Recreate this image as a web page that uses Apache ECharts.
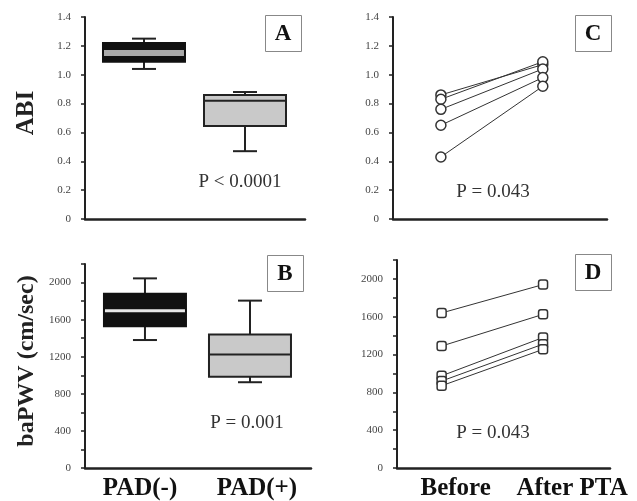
<!DOCTYPE html>
<html><head><meta charset="utf-8">
<script src="https://cdn.jsdelivr.net/npm/echarts@6/dist/echarts.min.js"></script>
<style>html,body{margin:0;padding:0;background:#fff}#c{width:637px;height:501px}</style>
</head><body><div id="c"></div>
<script>
// ---- data ----
const groupCats = ['PAD(-)', 'PAD(+)'];
// [min, Q1, median, Q3, max]
const abiPadNeg = [1.04, 1.09, 1.15, 1.22, 1.25];
const abiPadPos = [0.47, 0.645, 0.82, 0.86, 0.88];
const pwvPadNeg = [1380, 1530, 1695, 1880, 2045];
const pwvPadPos = [925, 985, 1225, 1440, 1805];
const periodCats = ['Before', 'After PTA'];
const abiBefore = [0.86, 0.83, 0.76, 0.65, 0.43];
const abiAfter  = [1.07, 1.09, 1.04, 0.98, 0.92];
const pwvBefore = [1640, 1290, 975, 920, 870];
const pwvAfter  = [1940, 1625, 1380, 1310, 1255];
const abiTicks = [0, 0.2, 0.4, 0.6, 0.8, 1.0, 1.2, 1.4];
const pwvTicks = [0, 400, 800, 1200, 1600, 2000];
const pTexts = ['P < 0.0001', 'P = 0.001', 'P = 0.043', 'P = 0.043'];
const panelLetters = ['A', 'B', 'C', 'D'];

// ---- styles ----
const SERIF = '"Liberation Serif","DejaVu Serif",serif';
const AX = '#222';
const boxStyles = [
  { fill: '#111', stroke: '#111', median: '#aaaaaa', medW: 6 },
  { fill: '#c9c9c9', stroke: '#222', median: '#222', medW: 2 }
];
const boxStylesB = [
  { fill: '#111', stroke: '#111', median: '#e8e8e8', medW: 3 },
  { fill: '#c9c9c9', stroke: '#222', median: '#222', medW: 2 }
];

function boxRender(styles) {
  return function (params, api) {
    const x = api.value(0);
    const pMin = api.coord([x, api.value(1)]);
    const pQ1 = api.coord([x, api.value(2)]);
    const pMed = api.coord([x, api.value(3)]);
    const pQ3 = api.coord([x, api.value(4)]);
    const pMax = api.coord([x, api.value(5)]);
    const cx = pMin[0];
    const half = 41, cap = 12;
    const s = styles[params.dataIndex];
    const ln = (x1, y1, x2, y2, c, w) => ({ type: 'line', shape: { x1, y1, x2, y2 }, style: { stroke: c, lineWidth: w } });
    return {
      type: 'group',
      children: [
        ln(cx, pMax[1], cx, pQ3[1], AX, 2),
        ln(cx, pQ1[1], cx, pMin[1], AX, 2),
        ln(cx - cap, pMax[1], cx + cap, pMax[1], AX, 2),
        ln(cx - cap, pMin[1], cx + cap, pMin[1], AX, 2),
        { type: 'rect', shape: { x: cx - half, y: pQ3[1], width: 2 * half, height: pQ1[1] - pQ3[1] },
          style: { fill: s.fill, stroke: s.stroke, lineWidth: 2 } },
        ln(cx - half + 1, pMed[1], cx + half - 1, pMed[1], s.median, s.medW)
      ]
    };
  };
}

const tickLabel = { fontFamily: SERIF, fontSize: 11, color: '#444', margin: 14 };
function yAbi(gi, name) {
  return {
    gridIndex: gi, type: 'value', min: 0, max: 1.4, interval: 0.2,
    name: name, nameLocation: 'middle', nameRotate: 90, nameGap: 46,
    nameTextStyle: { fontFamily: SERIF, fontSize: 25, fontWeight: 'bold', color: '#222', padding: [0, 0, 0, 10] },
    axisLine: { show: true, onZero: false, lineStyle: { color: AX, width: 2 } },
    axisTick: { show: true, length: 4, lineStyle: { color: AX, width: 1.5 } },
    splitLine: { show: false },
    axisLabel: Object.assign({}, tickLabel, {
      formatter: v => { const t = abiTicks.find(k => Math.abs(k - v) < 1e-6); return t === undefined ? '' : (t === 0 ? '0' : t.toFixed(1)); }
    })
  };
}
function yPwv(gi, name) {
  return {
    gridIndex: gi, type: 'value', min: 0, max: 2200, interval: 200,
    name: name, nameLocation: 'middle', nameRotate: 90, nameGap: 46,
    nameTextStyle: { fontFamily: SERIF, fontSize: 24, fontWeight: 'bold', color: '#222', padding: [0, 0, 0, 10] },
    axisLine: { show: true, onZero: false, lineStyle: { color: AX, width: 2 } },
    axisTick: { show: true, length: 4, lineStyle: { color: AX, width: 1.5 } },
    splitLine: { show: false },
    axisLabel: Object.assign({}, tickLabel, {
      formatter: v => pwvTicks.indexOf(v) >= 0 ? String(v) : ''
    })
  };
}
function xAxisDef(gi, min, max, cats, shifts) {
  const rich = {};
  shifts.forEach((s, i) => {
    rich['s' + i] = { fontFamily: SERIF, fontSize: 25, fontWeight: 'bold', color: '#111',
      padding: s >= 0 ? [0, 0, 0, 2 * s] : [0, -2 * s, 0, 0] };
  });
  return {
    gridIndex: gi, type: 'value', min: min, max: max,
    axisLine: { show: true, onZero: false, lineStyle: { color: AX, width: 2.5 } },
    axisTick: { show: false }, splitLine: { show: false },
    axisLabel: cats ? {
      show: true, customValues: [0, 1], margin: 8,
      formatter: v => '{s' + v + '|' + cats[v] + '}', rich: rich
    } : { show: false }
  };
}

const grids = [
  { left: 85, top: 17, width: 220, height: 202 },
  { left: 85, top: 264, width: 226, height: 205 },
  { left: 393, top: 17, width: 214, height: 202 },
  { left: 397, top: 260, width: 213, height: 209 }
];

function pairSeries(gi, before, after, symbol, size) {
  return before.map((b, i) => ({
    type: 'line', xAxisIndex: gi, yAxisIndex: gi,
    data: [[0, b], [1, after[i]]],
    symbol: symbol, symbolSize: size, showSymbol: true,
    lineStyle: { color: '#333', width: 1 },
    itemStyle: { color: '#fff', borderColor: '#333', borderWidth: 1.5 },
    animation: false, z: 3
  }));
}

const letterPos = [[265, 15], [267, 255], [575, 15], [575, 254]];
const pPos = [[240, 182], [247, 423], [493, 192], [493, 433]];
const graphics = [];
letterPos.forEach((p, i) => {
  graphics.push({ type: 'rect', left: p[0], top: p[1], shape: { width: 36, height: 36 },
    style: { fill: '#fff', stroke: '#888', lineWidth: 1 }, z: 10 });
  graphics.push({ type: 'text', x: p[0] + 18, y: p[1] + 19, z: 11,
    style: { text: panelLetters[i], fontFamily: SERIF, fontSize: 23, fontWeight: 'bold', fill: '#111',
      textAlign: 'center', textVerticalAlign: 'middle' } });
});
pPos.forEach((p, i) => {
  graphics.push({ type: 'text', x: p[0], y: p[1], z: 11,
    style: { text: pTexts[i], fontFamily: SERIF, fontSize: 19, fill: '#333',
      textAlign: 'center', textVerticalAlign: 'middle' } });
});

const option = {
  backgroundColor: '#fff',
  animation: false,
  grid: grids,
  xAxis: [
    xAxisDef(0, -0.584, 1.594, null, []),
    xAxisDef(1, -0.571, 1.581, groupCats, [-5, 7]),
    xAxisDef(2, -0.47, 1.63, null, []),
    xAxisDef(3, -0.44, 1.66, periodCats, [14, 29])
  ],
  yAxis: [yAbi(0, 'ABI'), yPwv(1, 'baPWV (cm/sec)'), yAbi(2, ''), yPwv(3, '')],
  series: [
    { type: 'custom', xAxisIndex: 0, yAxisIndex: 0, renderItem: boxRender(boxStyles),
      encode: { x: 0, y: [1, 2, 3, 4, 5] },
      data: [[0].concat(abiPadNeg), [1].concat(abiPadPos)] },
    { type: 'custom', xAxisIndex: 1, yAxisIndex: 1, renderItem: boxRender(boxStylesB),
      encode: { x: 0, y: [1, 2, 3, 4, 5] },
      data: [[0].concat(pwvPadNeg), [1].concat(pwvPadPos)] }
  ].concat(pairSeries(2, abiBefore, abiAfter, 'circle', 10))
   .concat(pairSeries(3, pwvBefore, pwvAfter, 'roundRect', 9)),
  graphic: graphics
};
const chart = echarts.init(document.getElementById('c'), null, { renderer: 'canvas' });
chart.setOption(option);
</script></body></html>
